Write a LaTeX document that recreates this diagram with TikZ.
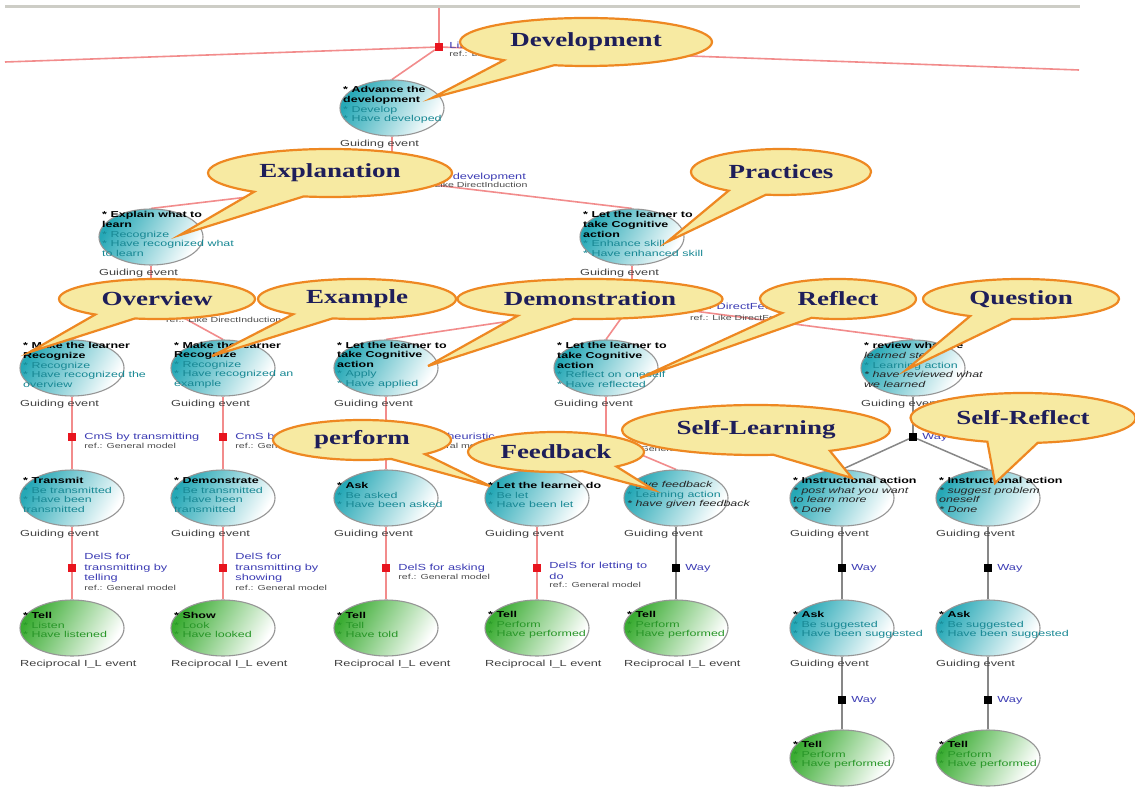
\documentclass[tikz,border=0pt]{standalone}
\usepackage{fontspec}
\usepackage{xcolor}
\usepackage{tikz}
\usetikzlibrary{positioning,shapes.geometric,shapes.callouts}
\newfontfamily\evfont[FakeStretch=1.45]{Liberation Sans}
\newfontfamily\bubblefont[FakeStretch=1.35]{Liberation Serif}
\definecolor{evcyan}{RGB}{38,168,182}
\definecolor{evgreen}{RGB}{58,172,50}
\definecolor{evedge}{RGB}{150,150,150}
\definecolor{cyantxt}{RGB}{24,136,148}
\definecolor{greentxt}{RGB}{40,150,40}
\definecolor{linkred}{RGB}{242,140,140}
\definecolor{sqred}{RGB}{232,20,30}
\definecolor{linkgrey}{RGB}{135,135,135}
\definecolor{linkblue}{RGB}{60,60,180}
\definecolor{bubblefill}{RGB}{247,234,162}
\definecolor{bubbleedge}{RGB}{238,136,34}
\definecolor{bubbletext}{RGB}{30,30,90}
\definecolor{framegrey}{RGB}{205,205,198}
\pgfdeclarelayer{bg}
\pgfsetlayers{bg,main}

% one event: ellipse, its text and the caption under it
\newcommand{\evnode}[5]{%
  \node[#3] (#1) at (#2) {};
  \node[#3 text] (#1-t) at ([xshift=-49pt,yshift=3pt]#1.center) {#4};
  \node[evcap] (#1-c) at ([xshift=-52pt,yshift=-36pt]#1.center) {#5};
}
\newcommand{\evhd}[1]{{\color{black}\bfseries #1}}
\newcommand{\evit}[1]{{\color{black!85}\itshape #1}}

\begin{document}
\begin{tikzpicture}[x=1pt, y=-1pt,
  cyanev/.style={ellipse, draw=evedge, line width=1.1pt, minimum width=104pt, minimum height=56pt, inner sep=0pt,
    top color=evcyan, middle color=evcyan!75!white, bottom color=white, shading angle=60},
  greenev/.style={ellipse, draw=evedge, line width=1.1pt, minimum width=104pt, minimum height=56pt, inner sep=0pt,
    top color=evgreen, middle color=evgreen!75!white, bottom color=white, shading angle=60},
  evtext/.style={font=\evfont\fontsize{8.6}{9.6}\selectfont, align=left, inner sep=0pt, anchor=west},
  cyanev text/.style={evtext, text=cyantxt},
  greenev text/.style={evtext, text=greentxt},
  evcap/.style={font=\evfont\fontsize{8.8}{10}\selectfont, text=black!75, inner sep=0pt, anchor=west},
  linklab/.style={font=\evfont\fontsize{8.8}{10.5}\selectfont, text=linkblue, inner sep=0pt, align=left},
  reflab/.style={font=\evfont\fontsize{7.3}{8}\selectfont, text=black!70, inner sep=0pt},
  redsq/.style={fill=sqred, minimum size=8pt, inner sep=0pt},
  blacksq/.style={fill=black, minimum size=8pt, inner sep=0pt},
  redlink/.style={draw=linkred, line width=1.6pt},
  greylink/.style={draw=linkgrey, line width=1.5pt},
  bubble/.style={ellipse callout, draw=bubbleedge, line width=2.2pt, fill=bubblefill, text=bubbletext,
    font=\bubblefont\bfseries\fontsize{20}{22}\selectfont, inner sep=0pt, callout pointer arc=26}]

\useasboundingbox (0,0) rectangle (1135,791);
\begin{pgfonlayer}{bg}
  \fill[white] (0,0) rectangle (1135,791);
\end{pgfonlayer}
\draw[framegrey, line width=3pt] (5,7) -- (1080,7);

% root link
\coordinate (roottop) at (439,8);
\coordinate (rootleft) at (5,62);
\coordinate (rootright) at (1079,70);
\node[redsq] (s0) at (439,47) {};
\node[linklab, right=6pt of s0, yshift=1pt] (s0-l) {LiS for learning};
\node[reflab, anchor=north west] (s0-r) at ([yshift=-1pt]s0-l.south west) {ref.: Learning theory};

% events
\evnode{adv}{392,108}{cyanev}{\evhd{* Advance the}\\\evhd{development}\\* Develop\\* Have developed}{Guiding event}

\evnode{expl}{151,237}{cyanev}{\evhd{* Explain what to}\\\evhd{learn}\\* Recognize\\* Have recognized what\\to learn}{Guiding event}
\evnode{take}{632,237}{cyanev}{\evhd{* Let the learner to}\\\evhd{take Cognitive}\\\evhd{action}\\* Enhance skill\\* Have enhanced skill}{Guiding event}

\evnode{ovw}{72,368}{cyanev}{\evhd{* Make the learner}\\\evhd{Recognize}\\* Recognize\\* Have recognized the\\overview}{Guiding event}
\evnode{exm}{223,368}{cyanev}{\evhd{* Make the learner}\\\evhd{Recognize}\\* Recognize\\* Have recognized an\\example}{Guiding event}
\evnode{appl}{386,368}{cyanev}{\evhd{* Let the learner to}\\\evhd{take Cognitive}\\\evhd{action}\\* Apply\\* Have applied}{Guiding event}
\evnode{refl}{606,368}{cyanev}{\evhd{* Let the learner to}\\\evhd{take Cognitive}\\\evhd{action}\\* Reflect on oneself\\* Have reflected}{Guiding event}
\evnode{revw}{913,368}{cyanev}{\evhd{* review what we}\\\evit{learned step}\\* Learning action\\\evit{* have reviewed what}\\\evit{we learned}}{Guiding event}

\evnode{tr}{72,498}{cyanev}{\evhd{* Transmit}\\* Be transmitted\\* Have been\\transmitted}{Guiding event}
\evnode{dem}{223,498}{cyanev}{\evhd{* Demonstrate}\\* Be transmitted\\* Have been\\transmitted}{Guiding event}
\evnode{ask}{386,498}{cyanev}{\evhd{* Ask}\\* Be asked\\* Have been asked}{Guiding event}
\evnode{let}{537,498}{cyanev}{\evhd{* Let the learner do}\\* Be let\\* Have been let}{Guiding event}
\evnode{give}{676,498}{cyanev}{\evit{* give feedback}\\* Learning action\\\evit{* have given feedback}}{Guiding event}
\evnode{insa}{842,498}{cyanev}{\evhd{* Instructional action}\\\evit{* post what you want}\\\evit{to learn more}\\\evit{* Done}}{Guiding event}
\evnode{insb}{988,498}{cyanev}{\evhd{* Instructional action}\\\evit{* suggest problem}\\\evit{oneself}\\\evit{* Done}}{Guiding event}

\evnode{tella}{72,628}{greenev}{\evhd{* Tell}\\* Listen\\* Have listened}{Reciprocal I\_L event}
\evnode{show}{223,628}{greenev}{\evhd{* Show}\\* Look\\* Have looked}{Reciprocal I\_L event}
\evnode{tellc}{386,628}{greenev}{\evhd{* Tell}\\* Tell\\* Have told}{Reciprocal I\_L event}
\evnode{telld}{537,628}{greenev}{\evhd{* Tell}\\* Perform\\* Have performed}{Reciprocal I\_L event}
\evnode{telle}{676,628}{greenev}{\evhd{* Tell}\\* Perform\\* Have performed}{Reciprocal I\_L event}
\evnode{aska}{842,628}{cyanev}{\evhd{* Ask}\\* Be suggested\\* Have been suggested}{Guiding event}
\evnode{askb}{988,628}{cyanev}{\evhd{* Ask}\\* Be suggested\\* Have been suggested}{Guiding event}

\evnode{tellf}{842,758}{greenev}{\evhd{* Tell}\\* Perform\\* Have performed}{}
\evnode{tellg}{988,758}{greenev}{\evhd{* Tell}\\* Perform\\* Have performed}{}

% link squares and their labels
\node[redsq] (s1) at (392,180) {};
\node[linklab, right=16pt of s1, yshift=3pt] (s1-l) {LiS for development};
\node[reflab, anchor=north west] (s1-r) at ([yshift=-1pt]s1-l.south west) {ref.: Like DirectInduction};
\node[redsq] (s2) at (151,300) {};
\node[reflab, anchor=west] (s2-r) at (166,320) {ref.: Like DirectInduction};
\node[redsq] (s3) at (632,303) {};
\node[linklab, anchor=west] (s3-l) at (676,306) {LiS for DirectFeedback};
\node[reflab, anchor=west] (s3-r) at (690,318) {ref.: Like DirectFeedback};

\node[redsq] (s4a) at (72,437) {};
\node[linklab, right=8pt of s4a] (s4a-l) {CmS by transmitting};
\node[reflab, anchor=north west] (s4a-r) at ([yshift=-2pt]s4a-l.south west) {ref.: General model};
\node[redsq] (s4b) at (223,437) {};
\node[linklab, right=8pt of s4b] (s4b-l) {CmS by transmitting};
\node[reflab, anchor=north west] (s4b-r) at ([yshift=-2pt]s4b-l.south west) {ref.: General model};
\node[redsq] (s4c) at (386,437) {};
\node[linklab, right=8pt of s4c] (s4c-l) {CmS by heuristic};
\node[reflab, anchor=north west] (s4c-r) at ([yshift=-2pt]s4c-l.south west) {ref.: General model};
\node[redsq] (s4d) at (606,440) {};
\node[reflab, right=8pt of s4d, yshift=-9pt] (s4d-r) {ref.: General model};
\node[blacksq] (s4e) at (913,437) {};
\node[linklab, right=5pt of s4e] (s4e-l) {Way};

\node[redsq] (s5a) at (72,568) {};
\node[linklab, right=8pt of s5a] (s5a-l) {DelS for\\transmitting by\\telling};
\node[reflab, anchor=north west] (s5a-r) at ([yshift=-2pt]s5a-l.south west) {ref.: General model};
\node[redsq] (s5b) at (223,568) {};
\node[linklab, right=8pt of s5b] (s5b-l) {DelS for\\transmitting by\\showing};
\node[reflab, anchor=north west] (s5b-r) at ([yshift=-2pt]s5b-l.south west) {ref.: General model};
\node[redsq] (s5c) at (386,568) {};
\node[linklab, right=8pt of s5c] (s5c-l) {DelS for asking};
\node[reflab, anchor=north west] (s5c-r) at ([yshift=-2pt]s5c-l.south west) {ref.: General model};
\node[redsq] (s5d) at (537,568) {};
\node[linklab, right=8pt of s5d, yshift=-3pt] (s5d-l) {DelS for letting to\\do};
\node[reflab, anchor=north west] (s5d-r) at ([yshift=-2pt]s5d-l.south west) {ref.: General model};
\node[blacksq] (s5e) at (676,568) {};
\node[linklab, right=5pt of s5e] (s5e-l) {Way};
\node[blacksq] (s5f) at (842,568) {};
\node[linklab, right=5pt of s5f] (s5f-l) {Way};
\node[blacksq] (s5g) at (988,568) {};
\node[linklab, right=5pt of s5g] (s5g-l) {Way};
\node[blacksq] (s6f) at (842,700) {};
\node[linklab, right=5pt of s6f] (s6f-l) {Way};
\node[blacksq] (s6g) at (988,700) {};
\node[linklab, right=5pt of s6g] (s6g-l) {Way};

% links, kept behind the events
\begin{pgfonlayer}{bg}
  \draw[redlink] (roottop) -- (s0);
  \draw[redlink] (rootleft) -- (s0) -- (rootright);
  \draw[redlink] (s0) -- (adv.north);
  \draw[redlink] (adv) -- (s1);
  \draw[redlink] (s1) -- (expl.north);
  \draw[redlink] (s1) -- (take.north);
  \draw[redlink] (expl) -- (s2);
  \draw[redlink] (s2) -- (ovw.north);
  \draw[redlink] (s2) -- (exm.north);
  \draw[redlink] (take) -- (s3);
  \draw[redlink] (s3) -- (appl.north);
  \draw[redlink] (s3) -- (refl.north);
  \draw[redlink] (s3) -- (revw.north);
  \draw[redlink] (ovw) -- (s4a) -- (tr);
  \draw[redlink] (exm) -- (s4b) -- (dem);
  \draw[redlink] (appl) -- (s4c) -- (ask);
  \draw[redlink] (refl) -- (s4d);
  \draw[redlink] (s4d) -- (let.north);
  \draw[redlink] (s4d) -- (give.north);
  \draw[greylink] (revw) -- (s4e);
  \draw[greylink] (s4e) -- (insa.north);
  \draw[greylink] (s4e) -- (insb.north);
  \draw[redlink] (tr) -- (s5a) -- (tella);
  \draw[redlink] (dem) -- (s5b) -- (show);
  \draw[redlink] (ask) -- (s5c) -- (tellc);
  \draw[redlink] (let) -- (s5d) -- (telld);
  \draw[greylink] (give) -- (s5e) -- (telle);
  \draw[greylink] (insa) -- (s5f) -- (aska);
  \draw[greylink] (insb) -- (s5g) -- (askb);
  \draw[greylink] (aska) -- (s6f) -- (tellf);
  \draw[greylink] (askb) -- (s6g) -- (tellg);
\end{pgfonlayer}

% callouts
\coordinate (devtip) at (432,98);
\coordinate (exptip) at (180,235);
\coordinate (practip) at (667,242);
\coordinate (ovwtip) at (30,352);
\coordinate (exmtip) at (212,356);
\coordinate (demtip) at (428,366);
\coordinate (refltip) at (640,378);
\coordinate (qsttip) at (906,370);
\coordinate (sltip) at (852,478);
\coordinate (srtip) at (995,483);
\coordinate (perftip) at (490,486);
\coordinate (fdbtip) at (654,490);

\node[bubble, minimum width=252pt, minimum height=48pt, callout absolute pointer=(devtip)] (devb) at (586,42) {Development};
\node[bubble, minimum width=244pt, minimum height=48pt, callout absolute pointer=(exptip)] (expb) at (330,173) {Explanation};
\node[bubble, minimum width=180pt, minimum height=46pt, callout absolute pointer=(practip)] (pracb) at (781,172) {Practices};
\node[bubble, minimum width=196pt, minimum height=40pt, callout absolute pointer=(ovwtip)] (ovwb) at (157,299) {Overview};
\node[bubble, minimum width=198pt, minimum height=40pt, callout absolute pointer=(exmtip)] (exmb) at (357,299) {Example};
\node[bubble, minimum width=265pt, minimum height=40pt, callout absolute pointer=(demtip)] (demb) at (590,299) {Demonstration};
\node[bubble, minimum width=156pt, minimum height=40pt, callout absolute pointer=(refltip)] (reflb) at (838,299) {Reflect};
\node[bubble, minimum width=196pt, minimum height=40pt, callout absolute pointer=(qsttip)] (qstb) at (1021,299) {Question};
\node[bubble, minimum width=268pt, minimum height=50pt, callout absolute pointer=(sltip)] (slb) at (756,430) {Self-Learning};
\node[bubble, minimum width=225pt, minimum height=50pt, callout absolute pointer=(srtip)] (srb) at (1023,418) {Self-Reflect};
\node[bubble, minimum width=178pt, minimum height=40pt, callout absolute pointer=(perftip)] (perfb) at (362,440) {perform};
\node[bubble, minimum width=176pt, minimum height=40pt, callout absolute pointer=(fdbtip)] (fdbb) at (556,452) {Feedback};
\end{tikzpicture}
\end{document}
